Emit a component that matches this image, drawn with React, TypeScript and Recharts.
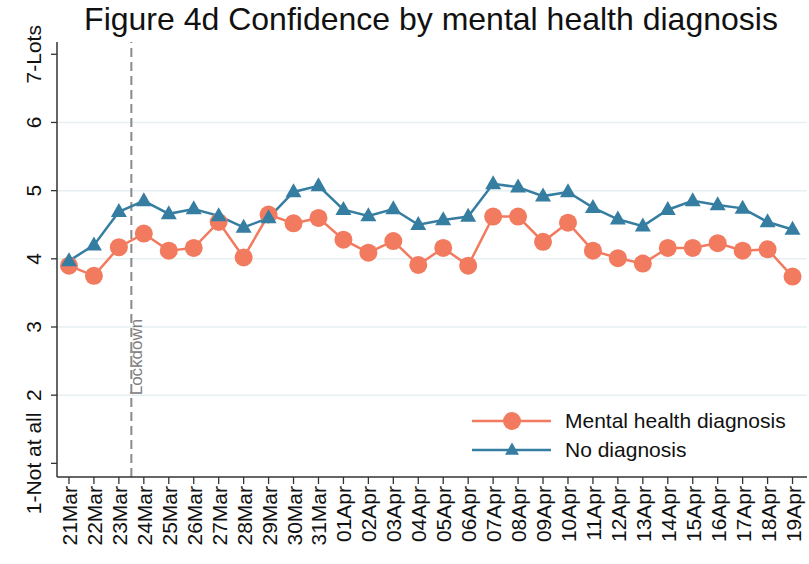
import React from "react";
import {
  LineChart,
  Line,
  XAxis,
  YAxis,
  ReferenceLine,
} from "recharts";

const dates = [
  "21Mar", "22Mar", "23Mar", "24Mar", "25Mar", "26Mar", "27Mar", "28Mar", "29Mar", "30Mar",
  "31Mar", "01Apr", "02Apr", "03Apr", "04Apr", "05Apr", "06Apr", "07Apr", "08Apr", "09Apr",
  "10Apr", "11Apr", "12Apr", "13Apr", "14Apr", "15Apr", "16Apr", "17Apr", "18Apr", "19Apr",
];

const mentalHealth = [
  3.9, 3.75, 4.17, 4.37, 4.12, 4.16, 4.54, 4.02, 4.65, 4.52,
  4.6, 4.28, 4.09, 4.26, 3.91, 4.16, 3.9, 4.62, 4.62, 4.25,
  4.53, 4.12, 4.01, 3.93, 4.16, 4.16, 4.23, 4.12, 4.14, 3.74,
];

const noDiagnosis = [
  3.97, 4.2, 4.69, 4.85, 4.66, 4.73, 4.63, 4.46, 4.6, 4.98,
  5.07, 4.72, 4.63, 4.73, 4.5, 4.57, 4.62, 5.1, 5.05, 4.92,
  4.98, 4.75, 4.58, 4.48, 4.72, 4.85, 4.79, 4.74, 4.54, 4.43,
];

const yTicks = [1, 2, 3, 4, 5, 6, 7];
const yLabels: Record<number, string> = { 1: "1-Not at all", 7: "7-Lots" };
const gridValues = [2, 3, 4, 5, 6];
const lockdownAt = 2.5;

const ORANGE = "#F27B5F";
const BLUE = "#367DA2";
const FONT = "'Liberation Sans', Arial, sans-serif";

const data = dates.map((d, i) => ({
  i,
  date: d,
  mh: mentalHealth[i],
  nd: noDiagnosis[i],
}));

const Triangle = (props: any) => {
  const { cx, cy, fill, size = 8 } = props;
  if (cx == null || cy == null) return null;
  const h = size * 1.75;
  return (
    <polygon
      points={`${cx},${cy - h * 0.62} ${cx - size},${cy + h * 0.38} ${cx + size},${cy + h * 0.38}`}
      fill={fill}
    />
  );
};

const YTick = (props: any) => {
  const { y, payload } = props;
  const label = yLabels[payload.value] ?? String(payload.value);
  return (
    <text
      x={41}
      y={y}
      transform={`rotate(-90, 41, ${y})`}
      textAnchor="middle"
      fontSize={21}
      fontFamily={FONT}
      fill="#111"
    >
      {label}
    </text>
  );
};

const XTick = (props: any) => {
  const { x, payload } = props;
  const px = x + 8;
  const py = 486;
  return (
    <text
      x={px}
      y={py}
      transform={`rotate(-90, ${px}, ${py})`}
      textAnchor="end"
      fontSize={21}
      fontFamily={FONT}
      fill="#111"
    >
      {dates[payload.value]}
    </text>
  );
};

const LegendBox = () => (
  <svg width={330} height={60} style={{ position: "absolute", left: 470, top: 405, overflow: "visible" }}>
    <line x1={2} y1={16} x2={81} y2={16} stroke={ORANGE} strokeWidth={2.5} />
    <circle cx={42} cy={16} r={9} fill={ORANGE} />
    <text x={95} y={23} fontSize={21} fontFamily={FONT} fill="#111">
      Mental health diagnosis
    </text>
    <line x1={2} y1={45} x2={81} y2={45} stroke={BLUE} strokeWidth={2.5} />
    <Triangle cx={42} cy={45} fill={BLUE} size={7} />
    <text x={95} y={52} fontSize={21} fontFamily={FONT} fill="#111">
      No diagnosis
    </text>
  </svg>
);

export default function App() {
  return (
    <div style={{ width: 809, height: 564, background: "#fff", position: "relative" }}>
      <style>{`body{margin:0}`}</style>
      <LineChart
        width={809}
        height={564}
        data={data}
        margin={{ top: 42, right: 2, bottom: 0, left: 0 }}
      >
        <text
          x={431}
          y={30}
          textAnchor="middle"
          fontSize={32}
          fontFamily={FONT}
          fill="#111"
        >
          Figure 4d Confidence by mental health diagnosis
        </text>
        {gridValues.map((v) => (
          <ReferenceLine key={v} y={v} stroke="#E6EFF2" strokeWidth={1.5} />
        ))}
        <XAxis
          dataKey="i"
          type="number"
          domain={[-0.48, 29.58]}
          ticks={dates.map((_, i) => i)}
          interval={0}
          height={87}
          tick={<XTick />}
          tickSize={7}
          tickLine={{ stroke: "#333", strokeWidth: 1.3 }}
          axisLine={{ stroke: "#333", strokeWidth: 1.5 }}
          allowDataOverflow
        />
        <YAxis
          type="number"
          domain={[0.8, 7.18]}
          ticks={yTicks}
          interval={0}
          width={57}
          tick={<YTick />}
          tickSize={6}
          tickLine={{ stroke: "#333", strokeWidth: 1.3 }}
          axisLine={{ stroke: "#333", strokeWidth: 1.5 }}
          allowDataOverflow
        />
        <ReferenceLine
          x={lockdownAt}
          stroke="#8A8A8A"
          strokeWidth={2}
          strokeDasharray="9 5"
          label={(p: any) => {
            const vb = p.viewBox || {};
            const lx = (vb.x ?? 132) + 5;
            const ly = 357;
            return (
              <text
                x={lx}
                y={ly}
                transform={`rotate(-90, ${lx}, ${ly})`}
                textAnchor="middle"
                dominantBaseline="central"
                fontSize={17}
                fontFamily={FONT}
                fill="#808080"
              >
                Lockdown
              </text>
            );
          }}
        />
        <Line
          dataKey="mh"
          name="Mental health diagnosis"
          stroke={ORANGE}
          strokeWidth={2.5}
          dot={{ r: 9, fill: ORANGE, stroke: "none" }}
          activeDot={false}
          isAnimationActive={false}
        />
        <Line
          dataKey="nd"
          name="No diagnosis"
          stroke={BLUE}
          strokeWidth={2.5}
          dot={(p: any) => <Triangle key={p.index} cx={p.cx} cy={p.cy} fill={BLUE} size={8} />}
          activeDot={false}
          isAnimationActive={false}
        />
      </LineChart>
      <LegendBox />
    </div>
  );
}
